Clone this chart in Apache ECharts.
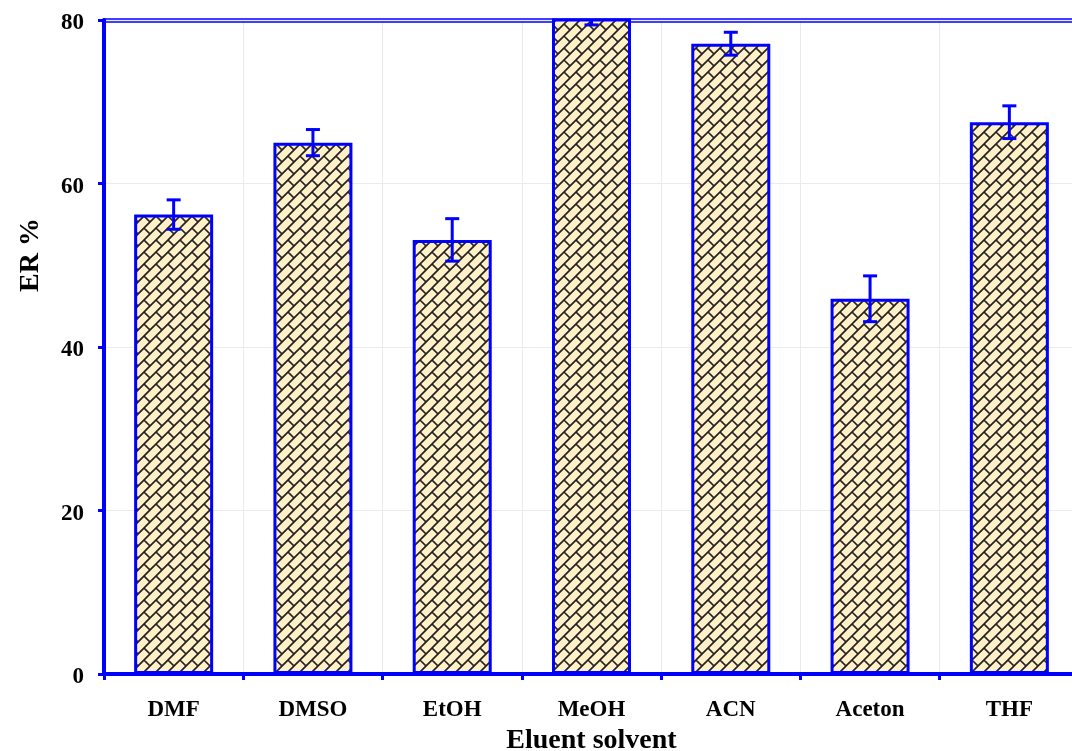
<!DOCTYPE html>
<html>
<head>
<meta charset="utf-8">
<script src="https://cdn.jsdelivr.net/npm/echarts@6/dist/echarts.min.js"></script>
<style>html,body{margin:0;padding:0;background:#fff;}#chart{width:1072px;height:751px;}</style>
</head>
<body>
<div id="chart"></div>
<script>
const categories = ['DMF', 'DMSO', 'EtOH', 'MeOH', 'ACN', 'Aceton', 'THF'];
const values = [56.2, 65.0, 53.1, 81.0, 77.1, 45.9, 67.5];
const errors = [1.8, 1.6, 2.6, 1.6, 1.4, 2.8, 2.0];
const yMin = 0, yMax = 80, yInterval = 20;

function makePattern() {
  const s = 24, step = 12;
  const c = document.createElement('canvas');
  c.width = s; c.height = s;
  const g = c.getContext('2d');
  g.fillStyle = '#FFF0C8';
  g.fillRect(0, 0, s, s);
  g.strokeStyle = '#222222';
  g.lineWidth = 1.7;
  g.beginPath();
  for (let k = -2; k <= 6; k++) {
    const sum = step * k;
    g.moveTo(sum + 30, -30); g.lineTo(sum - 30, 30);
  }
  for (let k = -3; k <= 6; k++) {
    const s1 = step * k, s2 = step * (k + 1);
    const off = (((k % 2) + 2) % 2) * step;
    for (let m = -4; m <= 4; m++) {
      const d = m * 2 * step + off;
      g.moveTo((s1 + d) / 2, (s1 - d) / 2);
      g.lineTo((s2 + d) / 2, (s2 - d) / 2);
    }
  }
  g.stroke();
  return c;
}

const chart = echarts.init(document.getElementById('chart'), null, {renderer: 'canvas'});
const blue = '#0000FF';
const font = 'Liberation Serif';

const option = {
  animation: false,
  backgroundColor: '#ffffff',
  grid: {left: 104, width: 975, top: 20, bottom: 77, containLabel: false, outerBoundsMode: 'none'},
  xAxis: [{
    type: 'category',
    data: categories,
    position: 'bottom',
    boundaryGap: true,
    axisLine: {show: true, lineStyle: {color: blue, width: 4}},
    axisTick: {show: true, length: 6, lineStyle: {color: blue, width: 3}},
    axisLabel: {color: '#000', fontFamily: font, fontWeight: 'bold', fontSize: 23, margin: 25},
    splitLine: {show: true, interval: 0, lineStyle: {color: '#ebebeb', width: 1}},
    name: 'Eluent solvent',
    nameLocation: 'middle',
    nameGap: 48,
    nameTextStyle: {color: '#000', fontFamily: font, fontWeight: 'bold', fontSize: 28}
  }, {
    type: 'category', data: categories, position: 'top', offset: 1,
    axisLine: {show: true, onZero: false, lineStyle: {color: blue, width: 1.5}},
    axisTick: {show: false}, axisLabel: {show: false}, splitLine: {show: false}
  }, {
    type: 'category', data: categories, position: 'top', offset: -2,
    axisLine: {show: true, onZero: false, lineStyle: {color: blue, width: 1.5}},
    axisTick: {show: false}, axisLabel: {show: false}, splitLine: {show: false}
  }],
  yAxis: {
    type: 'value',
    min: yMin, max: yMax, interval: yInterval,
    axisLine: {show: true, lineStyle: {color: blue, width: 4}},
    axisTick: {show: true, length: 6, lineStyle: {color: blue, width: 3}},
    axisLabel: {
      fontFamily: font, fontWeight: 'bold', fontSize: 23, margin: 20, color: '#000',
      formatter: '{v|{value}}',
      rich: {v: {color: '#000', fontFamily: font, fontWeight: 'bold', fontSize: 23, padding: [7, 0, 0, 0]}}
    },
    splitLine: {show: true, lineStyle: {color: '#ebebeb', width: 1}}
  },
  graphic: [{
    type: 'text',
    x: 31, y: 255,
    rotation: Math.PI / 2,
    style: {text: 'ER %', fill: '#000', font: 'bold 28px "Liberation Serif"', align: 'center', verticalAlign: 'middle'}
  }],
  series: [{
    type: 'bar',
    data: values,
    barWidth: 79,
    clip: true,
    itemStyle: {
      color: {image: makePattern(), repeat: 'repeat'},
      borderColor: blue,
      borderWidth: 3
    },
    z: 2
  }, {
    type: 'custom',
    data: categories.map((c, i) => [i, values[i], errors[i]]),
    encode: {x: 0, y: 1},
    clip: true,
    z: 5,
    renderItem: function (params, api) {
      const i = api.value(0), v = api.value(1), e = api.value(2);
      const hi = api.coord([i, v + e]);
      const lo = api.coord([i, v - e]);
      const half = 7;
      const st = {stroke: blue, lineWidth: 3};
      return {
        type: 'group',
        children: [
          {type: 'line', shape: {x1: hi[0], y1: hi[1], x2: lo[0], y2: lo[1]}, style: st},
          {type: 'line', shape: {x1: hi[0] - half, y1: hi[1], x2: hi[0] + half, y2: hi[1]}, style: st},
          {type: 'line', shape: {x1: lo[0] - half, y1: lo[1], x2: lo[0] + half, y2: lo[1]}, style: st}
        ]
      };
    }
  }]
};
chart.setOption(option);
</script>
</body>
</html>
